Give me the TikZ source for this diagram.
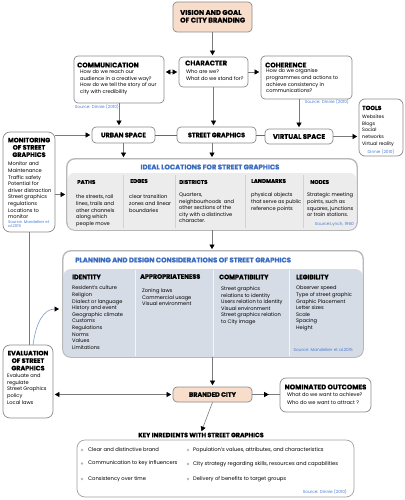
\documentclass[tikz,border=0pt]{standalone}
\usepackage{fontspec}
\setmainfont{Poppins}[BoldFeatures={FakeBold=0.8}]
\usetikzlibrary{arrows.meta,fit,decorations.markings}
\definecolor{peach}{HTML}{F8DDCB}
\definecolor{bord}{HTML}{8A8A8A}
\definecolor{lbord}{HTML}{B8B8B8}
\definecolor{srcblue}{HTML}{4A7BD0}
\definecolor{ttlblue}{HTML}{3A6CC0}
\definecolor{innerA}{HTML}{ECECEC}
\definecolor{innerB}{HTML}{D6DCE6}
\definecolor{linkblue}{HTML}{4F6F8F}
\definecolor{curveblue}{HTML}{7C9CC8}
\definecolor{conn}{HTML}{7A7A7A}
\begin{document}
\begin{tikzpicture}[x=1pt,y=-1pt,
  box/.style={draw=bord, line width=0.7pt, rounded corners=4pt, fill=white, inner sep=0pt},
  pbox/.style={box, fill=peach},
  bigbox/.style={draw=lbord, line width=0.8pt, rounded corners=8pt, fill=white, inner sep=0pt},
  ttl/.style={font=\fontsize{6.8}{7.5}\selectfont\bfseries, inner sep=0pt, anchor=north west, align=left},
  hdr/.style={font=\fontsize{5.5}{6}\selectfont\bfseries, inner sep=0pt, anchor=west},
  txt/.style={font=\fontsize{5.1}{6.6}\selectfont, inner sep=0pt, anchor=north west, align=left},
  item/.style={font=\fontsize{5.2}{6}\selectfont, inner sep=0pt, anchor=west},
  src/.style={font=\fontsize{4.2}{4.6}\selectfont, text=srcblue, inner sep=0pt, align=left},
  btitle/.style={font=\fontsize{6.9}{7.5}\selectfont\bfseries, text=ttlblue, inner sep=0pt},
  sp/.style={font=\fontsize{6.4}{7}\selectfont\bfseries, inner sep=0pt},
  con/.style={draw=conn, line width=0.6pt},
  arr/.style={con, -{Triangle[width=5pt,length=4.5pt,color=black]}, shorten >=1.5pt},
  darr/.style={con, {Triangle[width=5pt,length=4.5pt,color=black]}-{Triangle[width=5pt,length=4.5pt,color=black]}, shorten >=1.5pt, shorten <=1.5pt},
  midarr/.style={con, postaction={decorate}, decoration={markings, mark=at position 0.6 with {\arrow{Triangle[width=5pt,length=4.5pt,color=black]}}}},
  dot/.style={circle, fill=gray!55, inner sep=0pt, minimum size=2.6pt},
]
\useasboundingbox (0,0) rectangle (404,500);

% ---------- boxes ----------
\node[pbox, fit={(173,2) (252,32)}] (vision) {};
\node[box, fit={(74,56) (164,103)}] (comm) {};
\node[box, fit={(179,57) (248,87)}] (char) {};
\node[box, fit={(261,56) (352,99)}] (coh) {};
\node[box, rounded corners=6pt, fit={(359,99) (403,156)}] (tools) {};
\node[box, fit={(92,127) (155,143)}] (urban) {};
\node[box, fit={(177,127) (256,143)}] (sg) {};
\node[box, fit={(265,129) (333,144)}] (virt) {};
\node[box, rounded corners=7pt, fit={(3,132) (55,232)}] (mon) {};
\node[bigbox, fit={(67,159) (357,230)}] (ideal) {};
\node[bigbox, fit={(63,251) (363,357)}] (plan) {};
\node[box, rounded corners=7pt, fit={(3,345) (53,418)}] (eval) {};
\node[pbox, fit={(173,387) (252,402)}] (branded) {};
\node[box, rounded corners=6pt, fit={(280,378) (371,412)}] (nom) {};
\node[bigbox, draw=bord!80, line width=0.7pt, fit={(77,440) (354,497)}] (key) {};

% inner panels
\begin{scope}
  \clip[rounded corners=8pt] (67,159) rectangle (357,230);
  \fill[innerA, rounded corners=6pt] (68,173) rectangle (356,236);
\end{scope}
\draw[lbord, line width=0.8pt, rounded corners=8pt] (ideal.north west) rectangle (ideal.south east);
\foreach \xx in {123,175,245,303} \draw[gray!35, line width=0.6pt] (\xx,175) -- (\xx,228);

\begin{scope}
  \clip[rounded corners=8pt] (63,251) rectangle (363,357);
  \fill[innerB, rounded corners=8pt] (63,269) rectangle (363,365);
\end{scope}
\draw[lbord, line width=0.8pt, rounded corners=8pt] (plan.north west) rectangle (plan.south east);
\foreach \xx in {135,213,289} \draw[white!70!innerB, line width=0.7pt] (\xx,270) -- (\xx,356);

% ---------- texts ----------
\node[ttl, font=\fontsize{6.9}{7.6}\selectfont\bfseries] (visiont) at (180,9.8) {VISION AND GOAL\\OF CITY BRANDING};

\node[ttl] (commt) at (77,62.4) {COMMUNICATION};
\node[txt] (commx) at (80,69.7) {How do we reach our\\audience in a creative way?\\How do we tell the story of our\\city with credibility};
\node[src, anchor=east] (comms) at (119,107) {Source: Dinnie (2010)};

\node[ttl] (chart) at (185,60.4) {CHARACTER};
\node[txt] (charx) at (186,69.5) {Who are we?\\What do we stand for?};

\node[ttl] (coht) at (265,62.4) {COHERENCE};
\node[txt] (cohx) at (266,68.9) {How do we organise\\programmes and actions to\\achieve consistency in\\communications?};
\node[src, anchor=east] (cohs) at (349,102) {Source: Dinnie (2010)};

\node[sp] (urbant) at (urban.center) {URBAN SPACE};
\node[sp] (sgt) at (sg.center) {STREET GRAPHICS};
\node[sp, font=\fontsize{6.8}{7}\selectfont\bfseries] (virtt) at (virt.center) {VIRTUAL SPACE};

\node[ttl, font=\fontsize{5.9}{6}\selectfont\bfseries] (toolst) at (362,105.6) {TOOLS};
\node[txt, font=\fontsize{4.8}{6.6}\selectfont] (toolsx) at (362,114.9) {Websites\\Blogs\\Social\\networks\\Virtual reality};
\node[src] (toolss) at (381,152) {Dinnie (2010)};

\node[ttl, anchor=north, align=center, font=\fontsize{6.4}{7.3}\selectfont\bfseries] (mont) at (29,137.6) {MONITORING\\OF STREET\\GRAPHICS};
\node[txt] (monx) at (8,161.8) {Monitor and\\Maintenance\\Traffic safety\\Potential for\\driver distraction\\Street graphics\\regulations\\Locations to\\monitor};
\node[src, anchor=north west, font=\fontsize{3.9}{4.4}\selectfont] (mons) at (8,220.4) {Source: Mandelker et\\al.2015};

% ideal locations
\node[btitle] (idealt) at (210,167) {IDEAL LOCATIONS FOR STREET GRAPHICS};
\node[hdr] (pathsh) at (77,182) {PATHS};
\node[hdr] (edgesh) at (130,181) {EDGES};
\node[hdr] (distrh) at (179,182) {DISTRICTS};
\node[hdr] (landh) at (251,181) {LANDMARKS};
\node[hdr] (nodesh) at (310,182) {NODES};
\node[txt] (pathsx) at (76,194.8) {the streets, rail\\lines, trails and\\other channels\\along which\\people move};
\node[txt] (edgesx) at (129,194.8) {clear transition\\zones and linear\\boundaries};
\node[txt] (distrx) at (179,192.8) {Quarters,\\neighbourhoods\enspace and\\other sections of the\\city with a distinctive\\character.};
\node[txt] (landx) at (251,192.8) {physical objects\\that serve as public\\reference points};
\node[txt] (nodesx) at (307,192.8) {Strategic meeting\\points, such as\\squares, junctions\\or train stations.};
\node[src, anchor=east] (ideals) at (354,224.5) {Source:Lynch, 1960};

% planning
\node[btitle, anchor=west] (plant) at (75,260) {PLANNING AND DESIGN CONSIDERATIONS OF STREET GRAPHICS};
\node[hdr, font=\fontsize{6.4}{7}\selectfont\bfseries] (identh) at (72,277) {IDENTITY};
\node[hdr, font=\fontsize{6.4}{7}\selectfont\bfseries] (approh) at (140,276.5) {APPROPRIATENESS};
\node[hdr, font=\fontsize{6.4}{7}\selectfont\bfseries] (compah) at (219,277) {COMPATIBILITY};
\node[hdr, font=\fontsize{6.4}{7}\selectfont\bfseries] (legih) at (296,277) {LEGIBILITY};
\node[txt] (identx) at (72,285.9) {Resident's culture\\Religion\\Dialect or language\\History and event\\Geographic climate\\Customs\\Regulations\\Norms\\Values\\Limitations};
\node[txt] (approx) at (142,288.6) {Zoning laws\\Commercial usage\\Visual environment};
\node[txt] (compax) at (221,286.4) {Street graphics\\relations to identity\\Users relation to identity\\Visual environment\\Street graphics relation\\to City image};
\node[txt] (legix) at (296,285.9) {Observer speed\\Type of street graphic\\Graphic Placement\\Letter sizes\\Scale\\Spacing\\Height};
\node[src, anchor=east] (plans) at (353,350) {Source: Mandelker et al.2015};

% evaluation
\node[ttl, anchor=north, align=center, font=\fontsize{6.4}{7.5}\selectfont\bfseries] (evalt) at (28,350.6) {EVALUATION\\OF STREET\\GRAPHICS};
\node[txt] (evalx) at (7,373.8) {Evaluate and\\regulate\\Street Graphics\\policy\\Local laws};

% branded & nominated
\node[sp] (brandt) at (branded.center) {BRANDED CITY};
\node[font=\fontsize{6.8}{7}\selectfont\bfseries, inner sep=0pt] (nomt) at (325.5,387) {NOMINATED OUTCOMES};
\node[txt, font=\fontsize{5.1}{7.9}\selectfont] (nomx) at (287,392.6) {What do we want to achieve?\\Who do we want to attract ?};

% key ingredients
\node[font=\fontsize{6.3}{7}\selectfont\bfseries, inner sep=0pt] (keyt) at (201,435) {KEY INREDIENTS WITH STREET GRAPHICS};
\node[dot] (d1) at (82,450) {};
\node[dot] (d2) at (82,463.5) {};
\node[dot] (d3) at (82,479) {};
\node[dot] (d4) at (188,450) {};
\node[dot] (d5) at (188,464) {};
\node[dot] (d6) at (188,479) {};
\node[item] (k1) at (88,450) {Clear and distinctive brand};
\node[item] (k2) at (88,463.5) {Communication to key influencers};
\node[item] (k3) at (88,479) {Consistency over time};
\node[item] (k4) at (193,450) {Population's values, attributes, and characteristics};
\node[item] (k5) at (193,464) {City strategy regarding skills, resources and capabilities};
\node[item] (k6) at (193,479) {Delivery of benefits to target groups};
\node[src, anchor=east] (keys) at (347,492) {Source: Dinnie (2010)};

% ---------- connectors ----------
\draw[arr] (vision.south) -- (vision.south |- char.north);
\draw[darr] (comm.east |- char.west) -- (char.west);
\draw[arr] (char.east) -- (coh.west |- char.east);
\draw[arr] (comm.south) -- (comm.south |- urban.north);
\draw[arr] (char.south) -- (char.south |- sg.north);
\draw[arr] (virt.north |- coh.south) -- (virt.north);
\draw[linkblue, line width=0.7pt] (urban.east) -- (sg.west);
\draw[linkblue, line width=0.7pt] (sg.east) -- (sg.east -| virt.west);
\draw[arr] (virt.east) -- (tools.west |- virt.east);
\draw[arr] (mon.east |- urban.west) -- (urban.west);
\draw[arr] (mon.east |- ideal.west) -- (ideal.west);
\draw[arr] (urban.south) -- (urban.south |- ideal.north);
\draw[arr] (ideal.north |- sg.south) -- (ideal.north);
\draw[arr] (ideal.south) -- (ideal.south |- plan.north);
\draw[con] (mon.south) -- (mon.south |- eval.north);
\coordinate (evtop) at (33,345);
\coordinate (planin) at (62,309);
\draw[curveblue, line width=0.6pt, -{Triangle[width=5pt,length=4.5pt,color=black]}, shorten >=3pt] (evtop) .. controls (36,322) and (44,309) .. (planin);
\draw[arr] (branded.north |- plan.south) -- (branded.north);
\draw[darr] (eval.east |- branded.west) -- (branded.west);
\draw[midarr] (branded.east) -- (nom.west |- branded.east);
\draw[arr] (branded.south) -- (keyt.north);
\end{tikzpicture}
\end{document}
